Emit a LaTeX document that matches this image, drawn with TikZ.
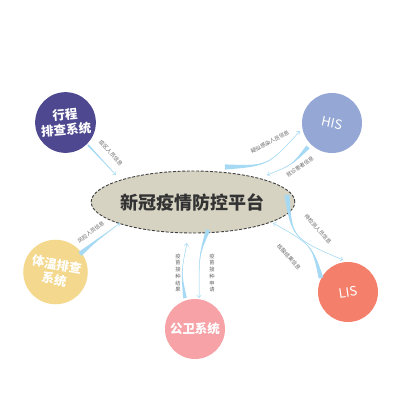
\documentclass[tikz,border=0pt]{standalone}
\usepackage{fontspec}
\setmainfont{Noto Sans CJK SC}
\usetikzlibrary{calc,arrows.meta,shapes.geometric}
\definecolor{bandc}{HTML}{A6DAF4}
\definecolor{lblc}{HTML}{666666}
\definecolor{c1}{HTML}{4D4890}
\definecolor{c2}{HTML}{95A7D5}
\definecolor{c3}{HTML}{F3D88E}
\definecolor{c4}{HTML}{F6A2A6}
\definecolor{c5}{HTML}{F4806B}
\definecolor{plat}{HTML}{D7D3C3}
\newcommand\taper[4]{%
  \fill[bandc] ($(#1)!#4!90:(#2)$) .. controls (#2) .. (#3) .. controls (#2) .. ($(#1)!#4!-90:(#2)$) -- cycle;
  \draw[bandc, line width=0.5pt, -{Straight Barb[length=2.6pt,width=4.5pt]}] (#1) .. controls (#2) .. (#3);
}
\tikzset{
  sys/.style={circle, minimum size=60pt, inner sep=0pt, text=white, font=\fontsize{12.5pt}{14pt}\selectfont\bfseries, align=center},
  lbl/.style={text=lblc, font=\fontsize{5.3pt}{6pt}\selectfont, inner sep=0.5pt},
  vlbl/.style={text=lblc, font=\fontsize{5.3pt}{6.7pt}\selectfont, inner sep=0.5pt, align=center}
}
\begin{document}
\begin{tikzpicture}[x=1pt,y=-1pt]
\useasboundingbox[fill=white] (0,0) rectangle (400,400);
% main platform
\node[ellipse, draw=black!75, dash pattern=on 3pt off 1.6pt, line width=0.9pt, fill=plat,
      minimum width=181pt, minimum height=62pt, inner sep=0pt,
      text=black!80, font=\fontsize{18pt}{20pt}\selectfont\bfseries] (p) at (193,202) {新冠疫情防控平台};
% systems
\node[sys, fill=c1] (xc) at (65.5,122.5) {\rotatebox{5}{\shortstack{行程\\排查系统}}};
\node[sys, fill=c2, font=\fontsize{13pt}{14pt}\selectfont] (his) at (332,123) {\rotatebox{-12}{HIS}};
\node[sys, fill=c3] (tw) at (55.5,272) {\rotatebox{-10}{\shortstack{体温排查\\系统}}};
\node[sys, fill=c4] (gw) at (195,329) {公卫系统};
\node[sys, fill=c5, font=\fontsize{13pt}{14pt}\selectfont] (lis) at (348,292) {\rotatebox{8}{LIS}};
% connector end points
\coordinate (a1) at (88,145);  \coordinate (b1) at (116,175); \coordinate (k1) at (102,160);
\coordinate (a2) at (225,167); \coordinate (b2) at (300,131); \coordinate (k2) at (268,166);
\coordinate (a3) at (308,147); \coordinate (b3) at (267,175); \coordinate (k3) at (292,165);
\coordinate (a4) at (287,195); \coordinate (b4) at (343,260); \coordinate (k4) at (292,238);
\coordinate (a5) at (321,278); \coordinate (b5) at (273,223); \coordinate (k5) at (312,245);
\coordinate (a6) at (185,298); \coordinate (b6) at (187,243); \coordinate (k6) at (181,272);
\coordinate (a7) at (208,230); \coordinate (b7) at (199,298); \coordinate (k7) at (199,255);
\coordinate (a8) at (80,254);  \coordinate (b8) at (120,223); \coordinate (k8) at (100,238);
% connectors
\taper{a1}{k1}{b1}{0.9pt}
\taper{a2}{k2}{b2}{2.6pt}
\taper{a3}{k3}{b3}{2.2pt}
\taper{a4}{k4}{b4}{2.6pt}
\taper{a5}{k5}{b5}{2.4pt}
\taper{a6}{k6}{b6}{1.8pt}
\taper{a7}{k7}{b7}{2.2pt}
\taper{a8}{k8}{b8}{2.4pt}
% labels
\node[lbl, rotate=-47] (l1) at (111,153) {疫区人员信息};
\node[lbl, rotate=28]  (l2) at (270,142) {疑似感染人员信息};
\node[lbl, rotate=35]  (l3) at (300,167) {就诊患者信息};
\node[lbl, rotate=-48] (l4) at (318,229) {待检测人员信息};
\node[lbl, rotate=-47] (l5) at (289,257) {核酸结果信息};
\node[lbl, rotate=38]  (l8) at (91,232) {风险人员信息};
\node[vlbl] (l6) at (178,273) {疫\\苗\\接\\种\\结\\果};
\node[vlbl] (l7) at (212,273) {疫\\苗\\接\\种\\申\\请};
\end{tikzpicture}
\end{document}
